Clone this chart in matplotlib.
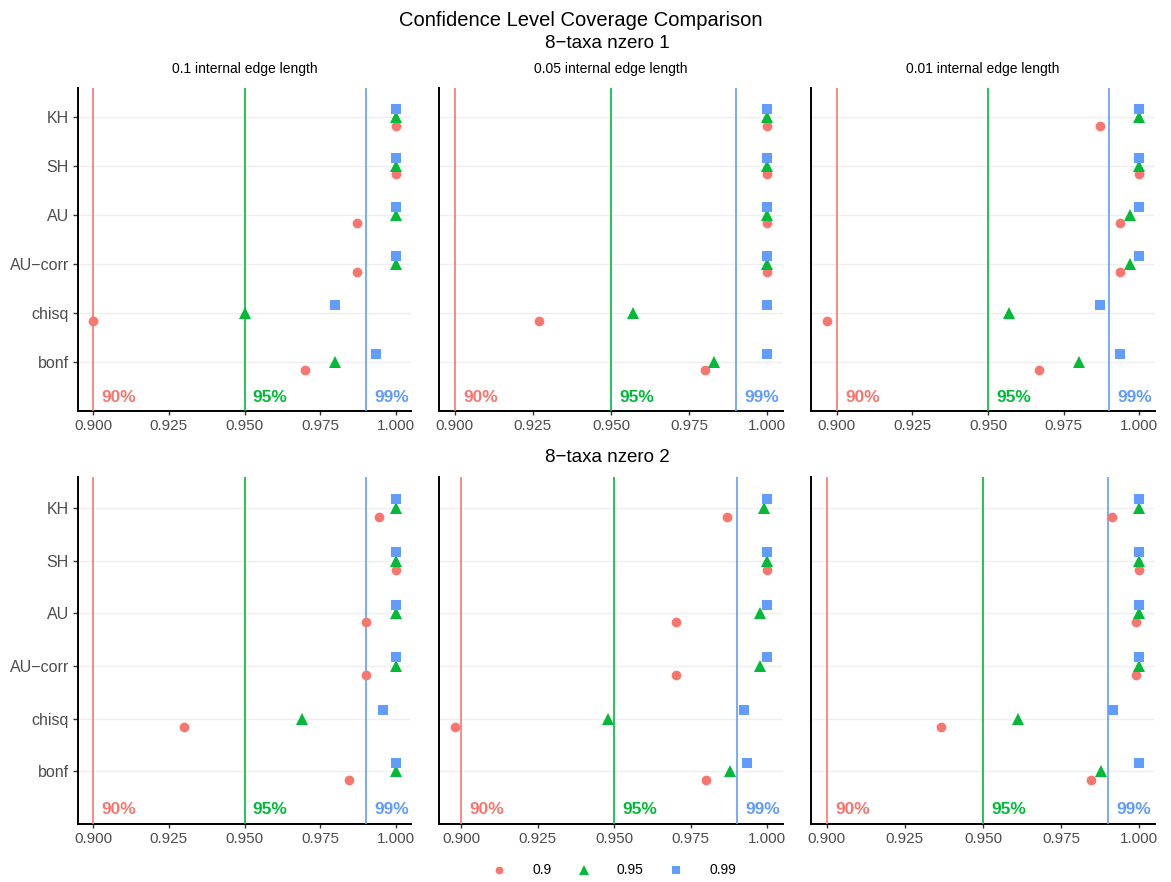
import numpy as np
import matplotlib
matplotlib.use("Agg")
import matplotlib.pyplot as plt
from matplotlib.lines import Line2D
from matplotlib.ticker import FormatStrFormatter

plt.rcParams["font.family"] = ["Liberation Sans", "DejaVu Sans"]

# Methods, listed from bottom row to top row of each panel
methods = ["bonf", "chisq", "AU\u2212corr", "AU", "SH", "KH"]
levels = ["0.9", "0.95", "0.99"]
level_values = [0.90, 0.95, 0.99]
level_labels = ["90%", "95%", "99%"]
colors = ["#F8766D", "#00BA38", "#619CFF"]
markers = ["o", "^", "s"]
x_ticks = [0.900, 0.925, 0.950, 0.975, 1.000]

# Coverage values, order: bonf, chisq, AU-corr, AU, SH, KH
# 8-taxa nzero 1, internal edge 0.1
n1_e10_cov90 = [0.970, 0.900, 0.987, 0.987, 1.000, 1.000]
n1_e10_cov95 = [0.980, 0.950, 1.000, 1.000, 1.000, 1.000]
n1_e10_cov99 = [0.9935, 0.980, 1.000, 1.000, 1.000, 1.000]
# 8-taxa nzero 1, internal edge 0.05
n1_e05_cov90 = [0.980, 0.927, 1.000, 1.000, 1.000, 1.000]
n1_e05_cov95 = [0.983, 0.957, 1.000, 1.000, 1.000, 1.000]
n1_e05_cov99 = [1.000, 1.000, 1.000, 1.000, 1.000, 1.000]
# 8-taxa nzero 1, internal edge 0.01
n1_e01_cov90 = [0.967, 0.8967, 0.9935, 0.9935, 1.000, 0.987]
n1_e01_cov95 = [0.980, 0.957, 0.997, 0.997, 1.000, 1.000]
n1_e01_cov99 = [0.9935, 0.987, 1.000, 1.000, 1.000, 1.000]
# 8-taxa nzero 2, internal edge 0.1
n2_e10_cov90 = [0.9846, 0.930, 0.990, 0.990, 1.000, 0.9945]
n2_e10_cov95 = [1.000, 0.969, 1.000, 1.000, 1.000, 1.000]
n2_e10_cov99 = [1.000, 0.9958, 1.000, 1.000, 1.000, 1.000]
# 8-taxa nzero 2, internal edge 0.05
n2_e05_cov90 = [0.980, 0.8978, 0.970, 0.970, 1.000, 0.9867]
n2_e05_cov95 = [0.9879, 0.9479, 0.9977, 0.9977, 1.000, 0.9989]
n2_e05_cov99 = [0.9934, 0.9924, 1.000, 1.000, 1.000, 1.000]
# 8-taxa nzero 2, internal edge 0.01
n2_e01_cov90 = [0.9844, 0.9367, 0.999, 0.999, 1.000, 0.9912]
n2_e01_cov95 = [0.9877, 0.9612, 1.000, 1.000, 1.000, 1.000]
n2_e01_cov99 = [1.000, 0.9915, 1.000, 1.000, 1.000, 1.000]

edge_titles = ["0.1 internal edge length", "0.05 internal edge length",
               "0.01 internal edge length"]
row_titles = ["8\u2212taxa nzero 1", "8\u2212taxa nzero 2"]

panels = [
    [(n1_e10_cov90, n1_e10_cov95, n1_e10_cov99),
     (n1_e05_cov90, n1_e05_cov95, n1_e05_cov99),
     (n1_e01_cov90, n1_e01_cov95, n1_e01_cov99)],
    [(n2_e10_cov90, n2_e10_cov95, n2_e10_cov99),
     (n2_e05_cov90, n2_e05_cov95, n2_e05_cov99),
     (n2_e01_cov90, n2_e01_cov95, n2_e01_cov99)],
]

W, H = 1171, 882
fig = plt.figure(figsize=(W / 100, H / 100), dpi=100)

# panel geometry in pixels: (left, right) per column, (top, bottom) per row
col_px = [(78, 411), (439, 783), (811, 1155)]
row_px = [(88, 411), (476.5, 824)]

dodge = 0.167
offsets = [-dodge, 0.0, dodge]
ypos = np.arange(1, len(methods) + 1)
text_color = "#4D4D4D"
marker_sizes = [7.0, 8.4, 7.3]

for r, row in enumerate(panels):
    top, bot = row_px[r]
    for c, series in enumerate(row):
        left, right = col_px[c]
        ax = fig.add_axes([left / W, 1 - bot / H, (right - left) / W, (bot - top) / H])

        for k, vals in enumerate(series):
            ax.plot(vals, ypos + offsets[k], linestyle="none", marker=markers[k],
                    color=colors[k], markersize=marker_sizes[k],
                    markeredgewidth=0, zorder=4)

        for k, lv in enumerate(level_values):
            ax.axvline(lv, color=colors[k], lw=1.2, zorder=3)
            ax.annotate(level_labels[k], xy=(lv, 0.27), xytext=(6, 0),
                        textcoords="offset points", ha="left", va="center",
                        color=colors[k], fontsize=12.5, fontweight="bold",
                        zorder=5, annotation_clip=False)

        # x limits from data range (including reference lines) with 5% padding
        all_vals = np.concatenate([np.asarray(s, float) for s in series] + [np.array(level_values)])
        lo, hi = all_vals.min(), all_vals.max()
        pad = 0.05 * (hi - lo)
        ax.set_xlim(lo - pad, hi + pad)
        ax.set_ylim(0.0, 6.6)

        ax.set_xticks(x_ticks)
        ax.xaxis.set_major_formatter(FormatStrFormatter("%.3f"))
        ax.set_yticks(ypos)
        ax.yaxis.grid(True, color="#EFEFEF", lw=1.0, zorder=0)
        ax.set_axisbelow(True)

        for s in ["top", "right"]:
            ax.spines[s].set_visible(False)
        for s in ["left", "bottom"]:
            ax.spines[s].set_linewidth(1.4)
            ax.spines[s].set_color("black")

        ax.tick_params(axis="x", length=3.2, width=1.0, color="#333333",
                       labelsize=11, labelcolor=text_color, pad=2.5)
        if c == 0:
            ax.set_yticklabels(methods)
            ax.tick_params(axis="y", length=3.4, width=1.0, color="#333333",
                           labelsize=11.5, labelcolor=text_color, pad=3.2)
        else:
            ax.set_yticklabels([])
            ax.tick_params(axis="y", length=0)

        if r == 0:
            ax.text(0.5, (top - 69) / (bot - top) + 1.0, edge_titles[c],
                    transform=ax.transAxes, ha="center", va="center",
                    fontsize=10, color="black")

fig.text(580.5 / W, 1 - 20 / H, "Confidence Level Coverage Comparison",
         ha="center", va="center", fontsize=14.5, color="black")
fig.text(607 / W, 1 - 43.5 / H, row_titles[0], ha="center", va="center",
         fontsize=13.5, color="black")
fig.text(607 / W, 1 - 458 / H, row_titles[1], ha="center", va="center",
         fontsize=13.5, color="black")

handles = [Line2D([], [], linestyle="none", marker=markers[k], color=colors[k],
                  markersize=[5.6, 7.0, 6.0][k], markeredgewidth=0)
           for k in range(3)]
fig.legend(handles, levels, loc="center", bbox_to_anchor=(614 / W, 1 - 870.5 / H),
           ncol=3, frameon=False, fontsize=10, handlelength=1.0,
           handletextpad=1.9, columnspacing=1.8, borderaxespad=0)

fig.savefig("out.png", dpi=100)
